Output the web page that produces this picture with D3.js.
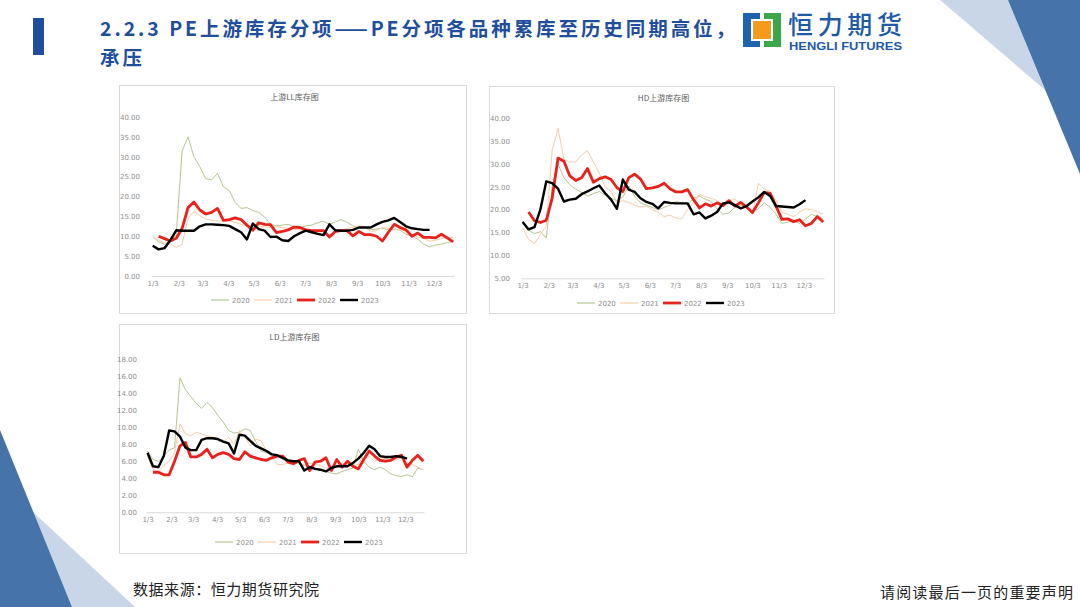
<!DOCTYPE html>
<html>
<head>
<meta charset="utf-8">
<script src="https://cdn.jsdelivr.net/npm/d3@7"></script>
<style>
  body { margin: 0; background: #fff; }
  svg { display: block; }
</style>
</head>
<body>
<svg id="slide" width="1080" height="607"></svg>
<script>
// --- categories ---
const weeks = ["1/3","1/10","1/17","1/24","1/31","2/7","2/14","2/21","2/28","3/7","3/14","3/21","3/28",
  "4/4","4/11","4/18","4/25","5/2","5/9","5/16","5/23","5/30","6/6","6/13","6/20","6/27",
  "7/4","7/11","7/18","7/25","8/1","8/8","8/15","8/22","8/29","9/5","9/12","9/19","9/26",
  "10/3","10/10","10/17","10/24","10/31","11/7","11/14","11/21","11/28","12/5","12/12","12/19","12/26"];
const monthTicks = ["1/3","2/3","3/3","4/3","5/3","6/3","7/3","8/3","9/3","10/3","11/3","12/3"];
const years = ["2020", "2021", "2022", "2023"];

// --- LL ---
const ll2020 = [10.0,8.6,8.0,8.8,10.5,31.5,35.0,30.0,27.5,24.5,24.2,25.8,22.5,21.5,18.5,17.0,17.2,16.5,16.0,14.8,13.0,12.6,12.8,13.0,12.4,12.2,12.6,12.8,13.4,13.8,13.0,13.6,14.2,13.5,12.6,12.2,12.0,11.6,11.8,12.0,11.6,11.8,11.5,10.5,10.0,9.3,8.0,7.3,7.8,8.0,8.4,8.8];
const ll2021 = [9.7,9.0,8.3,8.0,7.2,8.0,14.5,16.3,15.2,14.4,14.0,13.8,13.9,13.8,13.5,13.0,12.6,12.8,12.6,12.4,12.2,12.4,12.2,12.0,11.8,11.6,11.4,11.4,11.0,10.6,10.4,11.0,11.4,12.0,12.2,12.6,12.4,11.2,11.4,12.2,12.0,11.6,11.8,11.2,10.4,9.8,9.4,8.8,9.0,9.4,9.6,9.8];
const ll2022 = [null,10.0,9.4,8.8,9.5,12.0,17.2,18.6,16.6,15.6,16.0,17.0,14.0,14.2,14.6,14.2,12.8,11.5,13.4,13.0,12.9,10.9,11.2,11.6,12.3,12.2,11.6,11.4,11.4,11.4,9.8,11.2,11.4,11.4,10.1,11.2,10.4,10.4,10.0,8.8,11.0,13.0,12.2,11.6,10.0,10.8,9.7,9.7,9.6,10.5,9.6,8.6];
const ll2023 = [7.6,6.7,7.0,9.0,11.5,11.4,11.4,11.4,12.5,13.0,13.0,12.9,12.8,12.6,11.8,11.0,9.2,13.2,11.8,11.4,9.8,9.9,9.0,8.8,10.0,10.8,11.4,11.0,10.6,10.3,13.0,11.5,11.4,11.4,11.6,12.2,12.2,12.2,13.0,13.6,14.0,14.6,13.6,12.5,12.0,11.8,11.6,11.6];

// --- HD ---
const hd2020 = [17.5,15.5,14.8,15.2,13.8,25.0,30.0,27.0,25.5,24.5,23.8,23.0,23.5,24.0,23.2,22.5,22.0,22.8,25.2,23.0,21.5,21.0,20.5,20.0,20.5,21.0,21.8,21.5,21.0,22.5,23.0,22.3,21.8,20.2,19.0,19.3,20.5,21.0,20.8,19.6,20.2,21.5,20.5,19.0,17.0,17.3,17.6,17.0,18.0,19.0,18.5,18.0];
const hd2021 = [16.0,13.5,12.6,14.5,16.5,33.0,37.8,31.0,30.4,30.5,32.0,32.9,30.5,28.0,25.0,24.0,21.5,22.0,21.6,21.0,20.6,20.8,20.0,19.5,18.5,18.8,18.2,18.0,20.0,21.5,23.4,22.8,22.5,22.0,21.0,21.8,22.4,21.0,20.5,19.0,25.8,24.5,24.0,22.0,19.5,19.0,18.5,19.5,20.2,20.0,19.6,19.0];
const hd2022 = [null,19.5,17.6,17.2,17.7,22.5,31.3,30.6,27.4,26.4,27.0,29.0,26.0,26.8,27.2,26.6,24.8,24.0,27.0,27.8,26.7,24.6,24.8,25.1,25.8,24.6,23.9,23.9,24.4,22.2,20.4,21.3,20.8,21.5,20.9,22.0,20.8,21.6,20.6,19.4,21.5,23.8,23.6,20.8,17.9,18.0,17.4,17.8,16.5,17.0,18.5,17.3];
const hd2023 = [17.3,15.7,16.2,20.0,26.2,25.8,24.6,21.8,22.2,22.4,23.4,24.0,24.7,25.3,23.6,22.2,20.2,26.6,24.4,23.9,22.5,21.7,21.3,20.3,21.7,21.5,21.4,21.4,21.4,19.0,19.4,18.1,18.7,19.5,21.4,21.6,21.0,20.3,20.8,21.8,22.7,23.9,23.0,20.8,20.7,20.6,20.5,21.2,22.1];

// --- LD ---
const ld2020 = [7.2,6.2,6.0,6.6,7.3,7.6,15.8,14.4,13.6,12.8,12.2,12.9,12.3,11.4,10.6,9.6,9.3,9.4,9.8,9.6,8.3,7.2,7.0,6.8,6.6,6.2,6.0,5.8,5.7,5.5,5.3,5.2,5.0,4.8,4.6,4.5,4.8,5.0,5.2,7.4,6.0,5.3,5.0,5.3,5.0,4.5,4.3,4.2,4.4,4.2,5.2,5.0];
const ld2021 = [6.6,5.0,4.8,5.5,6.0,7.0,10.4,9.2,9.0,9.4,9.2,9.0,8.8,8.6,8.2,8.8,8.0,9.6,8.8,7.8,8.6,8.4,7.2,6.5,5.6,5.6,5.8,6.0,5.7,5.5,5.8,5.6,5.5,5.2,5.0,5.5,5.8,5.6,5.5,5.6,7.0,6.5,6.0,6.2,6.3,6.5,6.2,6.4,5.8,5.6,5.3,5.0];
const ld2022 = [null,4.7,4.7,4.4,4.4,6.0,7.8,8.2,6.5,6.5,6.8,7.4,6.4,6.8,7.0,6.8,6.3,6.2,7.1,6.6,6.4,6.2,6.1,6.4,6.6,6.6,5.9,5.7,6.1,6.3,4.9,5.9,6.0,6.4,4.9,6.2,5.3,6.0,5.4,5.1,6.2,7.2,6.6,6.1,6.0,6.1,6.5,6.7,5.3,6.1,6.7,6.0];
const ld2023 = [7.0,5.4,5.3,6.6,9.6,9.5,8.9,7.6,7.3,7.3,8.5,8.7,8.7,8.6,8.3,8.1,6.9,9.1,9.0,8.4,7.8,7.5,7.2,6.8,6.7,6.4,6.1,6.0,6.0,4.9,5.3,5.1,5.0,4.8,5.2,5.4,5.4,5.4,5.8,6.3,7.0,7.8,7.4,6.6,6.5,6.5,6.6,6.5,6.3];

// ---------- styling ----------
const seriesColor = ["#b3c690", "#f5cda8", "#e8211b", "#000000"];
const seriesWidth = [1, 1, 2.8, 2.4];
const numFont = "'DejaVu Sans', sans-serif";
const cjk = "'Noto Sans CJK SC', 'Noto Sans', sans-serif";

const parseMD = d3.timeParse("%Y/%m/%d");
const toDate = s => parseMD("2021/" + s);
const weekDates = weeks.map(toDate);
const tickDates = monthTicks.map(toDate);

const svg = d3.select("#slide");

// --- background decoration ---
svg.append("polygon").attr("points", "940,0 1008,0 1045,90").attr("fill", "#c9d6e8");
svg.append("polygon").attr("points", "1008,0 1080,0 1080,174").attr("fill", "#4674aa");
svg.append("polygon").attr("points", "33,512 135,607 72,607").attr("fill", "#c9d6e8");
svg.append("polygon").attr("points", "0,430 72,607 0,607").attr("fill", "#4674aa");

// --- header ---
svg.append("rect").attr("x", 33).attr("y", 18).attr("width", 11).attr("height", 37).attr("fill", "#1f4e9c");
svg.append("text").attr("x", 100).attr("y", 36)
  .attr("font-family", cjk).attr("font-weight", 700).attr("font-size", 19.5)
  .attr("fill", "#1f4e9c").attr("textLength", 635).attr("lengthAdjust", "spacing")
  .text("2.2.3 PE上游库存分项——PE分项各品种累库至历史同期高位，");
svg.append("text").attr("x", 100).attr("y", 64.5)
  .attr("font-family", cjk).attr("font-weight", 700).attr("font-size", 19.5)
  .attr("fill", "#1f4e9c").attr("letter-spacing", 3).text("承压");

// logo
const logo = svg.append("g");
logo.append("path").attr("fill", "#1e63b0")
  .attr("d", "M743,13 H760 V19 H751 V41 H760 V47 H743 Z");
logo.append("path").attr("fill", "#3aa84a")
  .attr("d", "M764,13 H781 V47 H764 V41 H773 V19 H764 Z");
logo.append("rect").attr("x", 753).attr("y", 21).attr("width", 18).attr("height", 18).attr("fill", "#f49a1c");
logo.append("text").attr("x", 788).attr("y", 34)
  .attr("font-family", cjk).attr("font-weight", 500).attr("font-size", 25)
  .attr("fill", "#1d5aa8").attr("textLength", 114).text("恒力期货");
logo.append("text").attr("x", 789).attr("y", 49.5)
  .attr("font-family", "'Liberation Sans', Arial, sans-serif").attr("font-weight", 700).attr("font-size", 10.5)
  .attr("fill", "#1d5aa8").attr("textLength", 113).attr("lengthAdjust", "spacingAndGlyphs").text("HENGLI FUTURES");

// --- footer ---
svg.append("text").attr("x", 133).attr("y", 595)
  .attr("font-family", cjk).attr("font-size", 15).attr("fill", "#222")
  .attr("textLength", 186).text("数据来源：恒力期货研究院");
svg.append("text").attr("x", 880).attr("y", 598)
  .attr("font-family", cjk).attr("font-size", 15).attr("fill", "#222")
  .attr("textLength", 193).text("请阅读最后一页的重要声明");

// --- charts ---
const charts = [
  { title: "上游LL库存图", box: [119, 85, 347, 228], xr: [151, 454], yr: [276, 117],
    yDomain: [0, 40], yStep: 5, labelGap: 11, titleY: 100, legendX: 211, legendY: 300,
    series: [ll2020, ll2021, ll2022, ll2023] },
  { title: "HD上游库存图", box: [489, 86, 345, 227], xr: [521, 824], yr: [278.3, 118.3],
    yDomain: [5, 40], yStep: 5, labelGap: 11, titleY: 101, legendX: 577, legendY: 303,
    series: [hd2020, hd2021, hd2022, hd2023] },
  { title: "LD上游库存图", box: [119, 324, 347, 229], xr: [146, 424], yr: [512.3, 359],
    yDomain: [0, 18], yStep: 2, labelGap: 9, titleY: 340, legendX: 215, legendY: 542,
    series: [ld2020, ld2021, ld2022, ld2023] }
];

charts.forEach(drawChart);

function drawChart(c) {
  const g = svg.append("g");
  const [bx, by, bw, bh] = c.box;

  g.append("rect").attr("x", bx + 0.5).attr("y", by + 0.5).attr("width", bw).attr("height", bh)
    .attr("fill", "#fff").attr("stroke", "#d9d9d9");

  g.append("text").attr("x", bx + bw / 2 + 2).attr("y", c.titleY)
    .attr("text-anchor", "middle").attr("font-family", cjk).attr("font-size", 8)
    .attr("fill", "#595959").text(c.title);

  const x = d3.scaleTime()
    .domain([toDate("1/1"), toDate("12/27")])
    .range(c.xr);
  const y = d3.scaleLinear().domain(c.yDomain).range(c.yr);

  // y axis labels
  const yTicks = d3.range(c.yDomain[0], c.yDomain[1] + 0.001, c.yStep);
  const yAxis = g.append("g").attr("transform", `translate(${c.xr[0]},0)`)
    .call(d3.axisLeft(y).tickValues(yTicks).tickFormat(d3.format(".2f")).tickSize(0).tickPadding(c.labelGap));
  yAxis.select(".domain").remove();
  yAxis.selectAll("text").attr("font-family", numFont).attr("font-size", 7).attr("fill", "#8c8c8c");

  // x axis
  const xAxis = g.append("g").attr("transform", `translate(0,${c.yr[0]})`)
    .call(d3.axisBottom(x).tickValues(tickDates).tickFormat((d, i) => monthTicks[i]).tickSize(0).tickPadding(5));
  xAxis.select(".domain").attr("stroke", "#d9d9d9");
  xAxis.selectAll("text").attr("font-family", numFont).attr("font-size", 7).attr("fill", "#8c8c8c");

  // lines
  const line = d3.line()
    .defined(d => d.v != null)
    .x(d => x(d.t))
    .y(d => y(d.v));

  c.series.forEach((vals, k) => {
    const pts = vals.map((v, i) => ({ t: weekDates[i], v: v }));
    g.append("path").datum(pts)
      .attr("fill", "none")
      .attr("stroke", seriesColor[k])
      .attr("stroke-width", seriesWidth[k])
      .attr("stroke-linejoin", "round")
      .attr("d", line);
  });

  // legend
  const step = 43;
  const lg = g.append("g").attr("transform", `translate(${c.legendX},${c.legendY})`);
  years.forEach((yr, k) => {
    const item = lg.append("g").attr("transform", `translate(${k * step},0)`);
    item.append("line").attr("x1", 0).attr("x2", 18).attr("y1", 0).attr("y2", 0)
      .attr("stroke", seriesColor[k]).attr("stroke-width", Math.max(seriesWidth[k], 1.2));
    item.append("text").attr("x", 21).attr("y", 2.5)
      .attr("font-family", numFont).attr("font-size", 7).attr("fill", "#8c8c8c").text(yr);
  });
}
</script>
</body>
</html>
